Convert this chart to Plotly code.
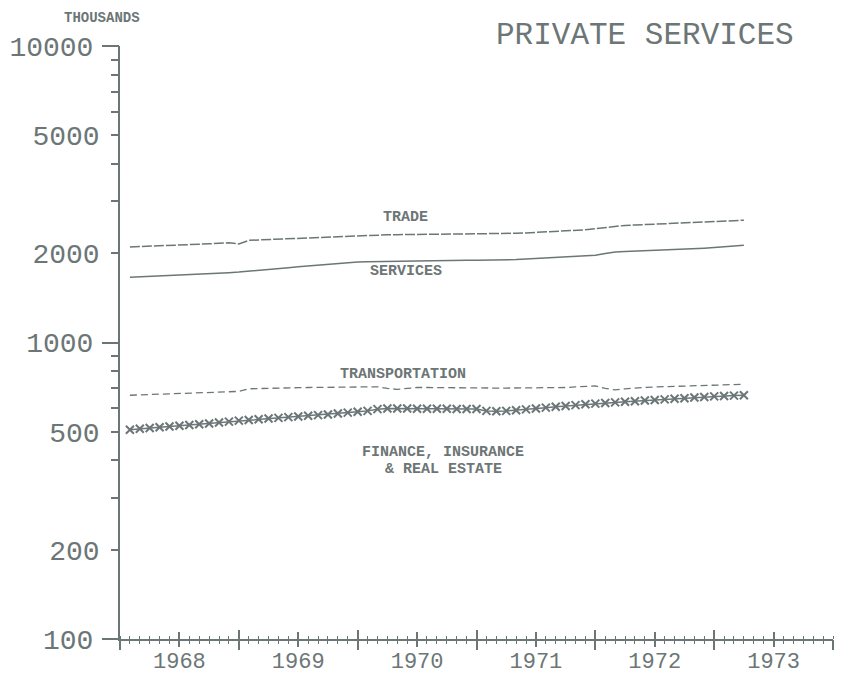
import math
import plotly.graph_objects as go

# ---- data (thousands), monthly Feb 1968 .. Apr 1973 ----
start_year, start_month, n_months = 1968, 2, 63
months = [f"{start_year + (start_month - 1 + k) // 12}-{(start_month - 1 + k) % 12 + 1:02d}" for k in range(n_months)]

trade = [2100, 2105, 2110, 2118, 2125, 2130, 2138, 2145, 2152, 2160, 2168, 2150,
         2210, 2218, 2225, 2232, 2240, 2248, 2255, 2262, 2270, 2278, 2290, 2298,
         2300, 2305, 2308, 2310, 2312, 2315, 2318, 2320, 2320, 2322, 2318, 2315,
         2318, 2322, 2328, 2335, 2342, 2350, 2357, 2365, 2375, 2385, 2400, 2420,
         2445, 2470, 2483, 2490, 2497, 2505, 2515, 2521, 2530, 2540, 2550, 2558,
         2566, 2575, 2585]
services = [1660, 1665, 1670, 1675, 1680, 1686, 1692, 1698, 1705, 1712, 1720, 1728,
            1738, 1750, 1762, 1775, 1788, 1800, 1812, 1825, 1838, 1852, 1862, 1868,
            1872, 1875, 1878, 1880, 1882, 1884, 1886, 1888, 1890, 1892, 1893, 1893,
            1893, 1894, 1898, 1904, 1912, 1920, 1928, 1936, 1944, 1952, 1960, 1968,
            1995, 2020, 2026, 2032, 2036, 2040, 2045, 2051, 2060, 2070, 2080, 2090,
            2100, 2112, 2128]
transportation = [664, 666, 668, 670, 672, 673, 675, 677, 678, 680, 682, 684,
                  698, 700, 701, 702, 703, 704, 705, 706, 707, 708, 708, 709,
                  709, 709, 700, 695, 700, 705, 705, 704, 703, 702, 702, 702,
                  702, 702, 702, 702, 703, 703, 704, 704, 705, 708, 712, 714,
                  700, 692, 698, 704, 706, 708, 710, 712, 714, 716, 717, 718,
                  720, 722, 723]
finance = [508, 512, 515, 518, 521, 524, 527, 530, 533, 537, 541, 545,
           548, 551, 554, 557, 560, 563, 566, 569, 572, 576, 580, 584,
           588, 596, 599, 599, 599, 598, 598, 598, 598, 597, 597, 597,
           588, 586, 588, 591, 595, 599, 603, 607, 611, 615, 619, 622,
           625, 628, 631, 634, 637, 640, 643, 646, 649, 652, 655, 658,
           660, 662, 664]

years = [1968, 1969, 1970, 1971, 1972, 1973]
y_labeled = [200, 500, 2000, 5000]
y_decades = [100, 1000, 10000]
y_minor = [300, 400, 600, 700, 800, 900, 3000, 4000, 6000, 7000, 8000, 9000]

title_text = "PRIVATE SERVICES"
unit_text = "THOUSANDS"
series_labels = [
    ("TRADE", 1970.40, 2648),
    ("SERVICES", 1970.41, 1730),
    ("TRANSPORTATION", 1970.38, 783),
    ("FINANCE, INSURANCE", 1970.72, 424),
    ("& REAL ESTATE", 1970.72, 374),
]

# ---- styling ----
INK = "#6c7676"
FONT = "Liberation Mono"


def to_decimal(m):
    y, mo = m.split("-")
    return int(y) + (int(mo) - 1) / 12


x = [to_decimal(m) for m in months]

fig = go.Figure()
fig.add_trace(go.Scatter(x=x, y=trade, mode="lines",
                         line=dict(color=INK, width=1.5, dash="10px,2px")))
fig.add_trace(go.Scatter(x=x, y=services, mode="lines",
                         line=dict(color=INK, width=1.5)))
fig.add_trace(go.Scatter(x=x, y=transportation, mode="lines",
                         line=dict(color=INK, width=1.3, dash="7px,4px")))
fig.add_trace(go.Scatter(x=x, y=finance, mode="lines+markers",
                         line=dict(color=INK, width=1.5),
                         marker=dict(symbol="x-thin", size=8, line=dict(color=INK, width=2))))
# helper (empty) traces so the overlaying tick axes are drawn
for xa, ya in [("x2", "y"), ("x3", "y"), ("x4", "y"), ("x", "y2")]:
    fig.add_trace(go.Scatter(x=[None], y=[None], xaxis=xa, yaxis=ya, mode="lines",
                             hoverinfo="skip", showlegend=False))

xr = [years[0], years[-1] + 1]
year_edges = years + [years[-1] + 1]
mid_years = [y + 0.5 for y in years]

y_short = sorted(y_labeled + y_minor)
y_short_text = [str(v) if v in y_labeled else "" for v in y_short]

common_x = dict(range=xr, showgrid=False, zeroline=False, fixedrange=True, automargin=False)
common_y = dict(type="log", range=[2, 4], showgrid=False, zeroline=False, fixedrange=True,
                automargin=False)
fig.update_layout(
    width=835, height=671,
    margin=dict(l=112, r=10, t=38, b=40, autoexpand=False),
    paper_bgcolor="white", plot_bgcolor="white",
    showlegend=False,
    font=dict(family=FONT, color=INK),
    # year labels only
    xaxis=dict(**common_x, showline=True, linecolor=INK, linewidth=1.5,
               tickmode="array", tickvals=mid_years, ticktext=[str(v) for v in years],
               ticks="", ticklabelstandoff=1,
               tickfont=dict(size=22, family=FONT, color=INK)),
    # year boundaries (below) + months (above)
    xaxis2=dict(**common_x, overlaying="x", anchor="y", side="bottom",
                tickmode="array", tickvals=year_edges, showticklabels=False,
                ticks="outside", ticklen=10, tickwidth=1.5, tickcolor=INK,
                minor=dict(tick0=years[0], dtick=1 / 12, ticks="inside", ticklen=3,
                           tickwidth=1.2, tickcolor=INK)),
    # year boundaries (above) + mid-years (above)
    xaxis3=dict(**common_x, overlaying="x", anchor="y", side="bottom",
                tickmode="array", tickvals=year_edges, showticklabels=False,
                ticks="inside", ticklen=9, tickwidth=1.5, tickcolor=INK,
                minor=dict(tick0=mid_years[0], dtick=1, ticks="inside", ticklen=7,
                           tickwidth=1.5, tickcolor=INK)),
    # mid-years (below) + months (below)
    xaxis4=dict(**common_x, overlaying="x", anchor="y", side="bottom",
                tickmode="array", tickvals=mid_years, showticklabels=False,
                ticks="outside", ticklen=7, tickwidth=1.5, tickcolor=INK,
                minor=dict(tick0=years[0], dtick=1 / 12, ticks="outside", ticklen=4,
                           tickwidth=1.2, tickcolor=INK)),
    yaxis=dict(**common_y, showline=True, linecolor=INK, linewidth=1.5,
               tickmode="array", tickvals=y_short, ticktext=y_short_text,
               ticks="outside", ticklen=7, tickwidth=1.5, tickcolor=INK,
               ticklabelstandoff=6,
               tickfont=dict(size=28, family=FONT, color=INK)),
    yaxis2=dict(**common_y, overlaying="y", anchor="x", side="left",
                tickmode="array", tickvals=y_decades, ticktext=[str(v) for v in y_decades],
                ticks="outside", ticklen=17, tickwidth=1.5, tickcolor=INK,
                ticklabelstandoff=3,
                tickfont=dict(size=28, family=FONT, color=INK)),
)

small = dict(family=FONT, size=15, color=INK, weight="bold")
for txt, lx, ly in series_labels:
    fig.add_annotation(x=lx, y=math.log10(ly), yref="y", xref="x", text=txt, showarrow=False,
                       xanchor="center", yanchor="middle", font=small)

fig.add_annotation(xref="paper", yref="paper", x=(645 - 120) / 713, y=(639 - 35) / 593,
                   text=title_text, showarrow=False, xanchor="center", yanchor="middle",
                   font=dict(family=FONT, size=31, color=INK))
fig.add_annotation(xref="paper", yref="paper", x=(102 - 120) / 713, y=(639 - 9) / 593,
                   text=unit_text, showarrow=False, xanchor="center", yanchor="top",
                   borderpad=0,
                   font=dict(family=FONT, size=14, color=INK, weight="bold"))

fig.write_html("out.html")
